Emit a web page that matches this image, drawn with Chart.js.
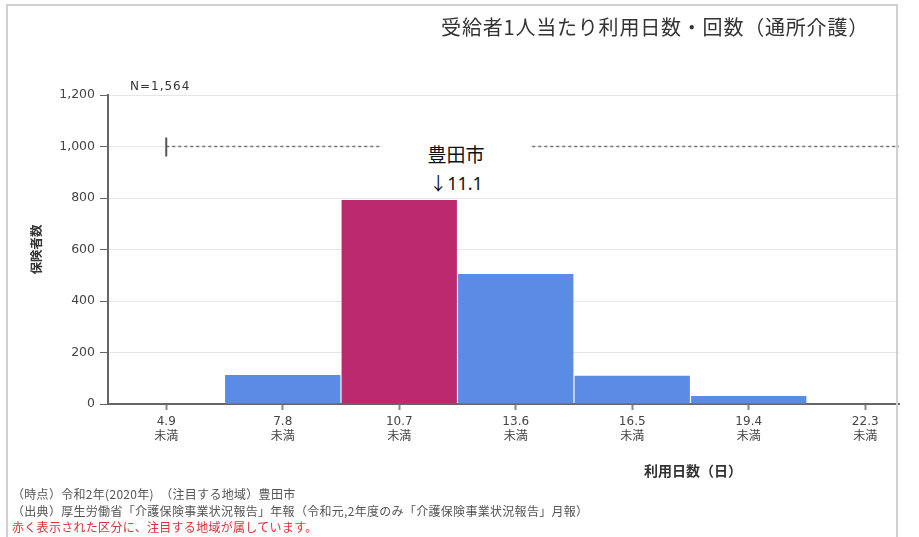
<!DOCTYPE html>
<html lang="ja">
<head>
<meta charset="utf-8">
<script src="https://cdn.jsdelivr.net/npm/chart.js@4.4.1/dist/chart.umd.min.js"></script>
<style>
  body { margin: 0; background: #fff; }
  #wrap { position: relative; width: 919px; height: 537px; overflow: hidden; font-family: "Noto Sans CJK JP", sans-serif; }
  #frame { position: absolute; left: 6px; top: 4px; width: 892px; height: 540px; border: 2px solid #d0d0d0; box-sizing: border-box; }
  .txt { position: absolute; white-space: nowrap; }
  #title { right: 50px; top: 13px; font-size: 20px; letter-spacing: 0.8px; color: #333; line-height: 28px; }
  #nlabel { left: 130px; top: 79px; font-family: "DejaVu Sans", sans-serif; font-size: 12px; letter-spacing: 1px; color: #333; }
  #xtitle { left: 644px; top: 460px; font-size: 14px; font-weight: bold; color: #333; }
  #focus { position: absolute; left: 382px; top: 129px; width: 148px; height: 69px; background: #fff; text-align: center; font-size: 19px; line-height: 28px; color: #111; padding-top: 11px; box-sizing: border-box; }
  #focus .v { font-family: "Noto Sans", "Noto Sans CJK JP", sans-serif; font-size: 18px; }
  #notes { left: 12px; top: 486px; font-size: 12px; letter-spacing: 0.3px; line-height: 16.5px; color: #555; }
  #notes .red { color: #e0303a; }
</style>
</head>
<body>
<div id="wrap">
  <canvas id="chart" width="919" height="537"></canvas>
  <div id="frame"></div>
  <div class="txt" id="title">受給者1人当たり利用日数・回数（通所介護）</div>
  <div class="txt" id="nlabel">N=1,564</div>
  <div class="txt" id="xtitle">利用日数（日）</div>
  <div id="focus">豊田市<br><span class="v">↓11.1</span></div>
  <div class="txt" id="notes">
    （時点）令和2年(2020年)　（注目する地域）豊田市<br>
    （出典）厚生労働省「介護保険事業状況報告」年報（令和元,2年度のみ「介護保険事業状況報告」月報）<br>
    <span class="red">赤く表示された区分に、注目する地域が属しています。</span>
  </div>
</div>
<script>
const categories = ['4.9', '7.8', '10.7', '13.6', '16.5', '19.4', '22.3'];
const counts = [0, 113, 792, 505, 110, 31, 0];
const focusIndex = 2;
const yTicks = [0, 200, 400, 600, 800, 1000, 1200];
const markerValue = 1000;

const blue = '#5a8ce6';
const pink = '#bb2a6e';

// dotted range line at 1,000 starting from the first class
const markerLine = {
  id: 'markerLine',
  afterDatasetsDraw(chart) {
    const { ctx, chartArea, scales: { x, y } } = chart;
    const py = y.getPixelForValue(markerValue);
    const px = x.getPixelForValue(0);
    ctx.save();
    ctx.strokeStyle = '#777';
    ctx.lineWidth = 1.5;
    ctx.setLineDash([3, 3]);
    ctx.beginPath();
    ctx.moveTo(px, py);
    ctx.lineTo(chartArea.right, py);
    ctx.stroke();
    ctx.setLineDash([]);
    ctx.strokeStyle = '#555';
    ctx.lineWidth = 2;
    ctx.beginPath();
    ctx.moveTo(px, py - 9);
    ctx.lineTo(px, py + 10);
    ctx.stroke();
    ctx.restore();
  }
};

new Chart(document.getElementById('chart').getContext('2d'), {
  type: 'bar',
  data: {
    datasets: [{
      data: categories.map((c, i) => ({ x: i, y: counts[i] })),
      backgroundColor: categories.map((c, i) => i === focusIndex ? pink : blue),
      borderWidth: 0,
      barPercentage: 0.99,
      categoryPercentage: 1
    }]
  },
  options: {
    responsive: false,
    animation: false,
    devicePixelRatio: 1,
    layout: { padding: { top: 95, right: 20, left: 0, bottom: 0 } },
    plugins: { legend: { display: false }, tooltip: { enabled: false } },
    scales: {
      x: {
        type: 'linear',
        offset: false,
        min: -0.5,
        max: categories.length - 0.71,
        afterBuildTicks: (scale) => { scale.ticks = categories.map((c, i) => ({ value: i })); },
        afterFit: (scale) => { scale.height = 133; },
        ticks: {
          autoSkip: false,
          maxRotation: 0,
          padding: 4,
          color: '#444',
          font: { family: "'DejaVu Sans', 'Noto Sans CJK JP', sans-serif", size: 12, lineHeight: 1.25 },
          callback: (v) => [categories[v], '未満']
        },
        grid: { drawOnChartArea: false, offset: false, tickLength: 6, tickColor: '#888', tickWidth: 2 },
        border: { display: true, color: '#666', width: 2 }
      },
      y: {
        min: 0,
        max: 1200,
        afterBuildTicks: (scale) => { scale.ticks = yTicks.map(v => ({ value: v })); },
        afterFit: (scale) => { scale.width = 108; },
        ticks: {
          padding: 5,
          color: '#444',
          font: { family: "'DejaVu Sans', sans-serif", size: 12.5 },
          callback: (v) => v.toLocaleString('en-US')
        },
        grid: { color: '#e6e6e6', tickColor: '#666', tickLength: 8 },
        border: { display: true, color: '#666', width: 2 },
        title: {
          display: true,
          text: '保険者数',
          color: '#333',
          padding: { top: 29, bottom: 0 },
          font: { family: "'Noto Sans CJK JP', sans-serif", size: 12.5, weight: 'bold' }
        }
      }
    }
  },
  plugins: [markerLine]
});
</script>
</body>
</html>
